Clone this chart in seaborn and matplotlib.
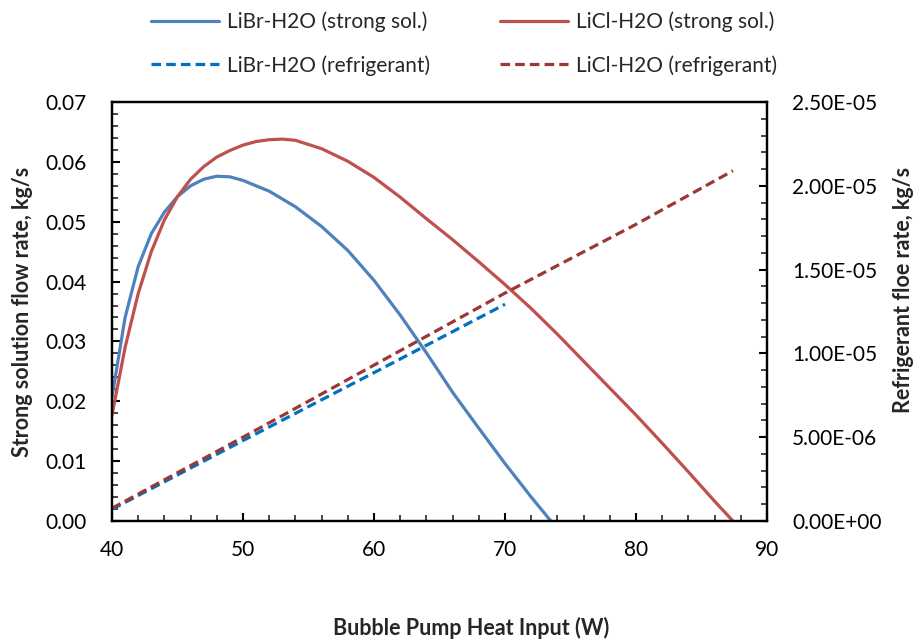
import matplotlib
matplotlib.use("Agg")
import matplotlib.pyplot as plt
from matplotlib.ticker import MultipleLocator, FuncFormatter
import seaborn as sns

# values
libr_x = [40, 41, 42, 43, 44, 45, 46, 47, 48, 49, 50, 52, 54, 56, 58, 60, 62, 64, 66, 68, 70, 72, 73.5]
libr_strong = [0.0207, 0.0340, 0.0425, 0.0480, 0.0516, 0.0542, 0.0560, 0.0571, 0.0576, 0.0575,
               0.0569, 0.0551, 0.0525, 0.0492, 0.0452, 0.0402, 0.0344, 0.0281, 0.0215, 0.0155,
               0.0096, 0.0040, 0.0]

licl_x = [40, 41, 42, 43, 44, 45, 46, 47, 48, 49, 50, 51, 52, 53, 54, 56, 58, 60, 62, 64, 66, 68,
          70, 72, 74, 76, 78, 80, 82, 84, 86, 87.4]
licl_strong = [0.0177, 0.0290, 0.0380, 0.0450, 0.0503, 0.0542, 0.0571, 0.0592, 0.0608, 0.0619,
               0.0628, 0.0634, 0.0637, 0.0638, 0.0636, 0.0622, 0.0601, 0.0574, 0.0541, 0.0505,
               0.0470, 0.0433, 0.0395, 0.0355, 0.0312, 0.0267, 0.0222, 0.0177, 0.0130, 0.0082,
               0.0033, 0.0]

libr_ref_x = [40, 50, 60, 70]
libr_ref = [7.0e-7, 4.80e-6, 8.85e-6, 1.293e-5]

licl_ref_x = [40, 50, 60, 70, 80, 87.4]
licl_ref = [7.6e-7, 5.0e-6, 9.3e-6, 1.36e-5, 1.77e-5, 2.09e-5]

sns.set_style("ticks")
plt.rcParams["font.family"] = ["Lato", "DejaVu Sans"]

fig = plt.figure(figsize = (9.22, 6.4), dpi = 100)
ax = fig.add_axes([112 / 922, 1 - 521 / 640, 655 / 922, 419 / 640])
ax2 = ax.twinx()

lw = 2.3
sns.lineplot(x = libr_x, y = libr_strong, ax = ax, color = "#4F81BD", linewidth = lw,
             label = "LiBr-H2O (strong sol.)", legend = False)
sns.lineplot(x = licl_x, y = licl_strong, ax = ax, color = "#C0504D", linewidth = lw,
             label = "LiCl-H2O (strong sol.)", legend = False)
sns.lineplot(x = libr_ref_x, y = libr_ref, ax = ax2, color = "#0070C0", linewidth = lw,
             linestyle = (0, (3, 1.6)), label = "LiBr-H2O (refrigerant)", legend = False)
sns.lineplot(x = licl_ref_x, y = licl_ref, ax = ax2, color = "#9B3835", linewidth = lw,
             linestyle = (0, (3, 1.6)), label = "LiCl-H2O (refrigerant)", legend = False)

ax.set_xlim(40, 90)
ax.set_ylim(0, 0.07)
ax2.set_ylim(0, 2.5e-5)

ax.xaxis.set_major_locator(MultipleLocator(10))
ax.xaxis.set_minor_locator(MultipleLocator(2))
ax.yaxis.set_major_locator(MultipleLocator(0.01))
ax.yaxis.set_minor_locator(MultipleLocator(0.002))
ax.yaxis.set_major_formatter(FuncFormatter(lambda v, p: f"{v:.2f}"))
ax2.yaxis.set_major_locator(MultipleLocator(5e-6))
ax2.yaxis.set_minor_locator(MultipleLocator(1e-6))
ax2.yaxis.set_major_formatter(FuncFormatter(lambda v, p: f"{v:.2E}"))

for a in (ax, ax2):
    for s in a.spines.values():
        s.set_linewidth(1.6)
        s.set_color("black")
    a.tick_params(which = "major", direction = "in", length = 6, width = 1.5,
                  labelsize = 15, colors = "black")
    a.tick_params(which = "minor", direction = "in", length = 4, width = 1.2)
ax.tick_params(axis = "y", which = "major", pad = 18)
ax.tick_params(axis = "x", which = "major", pad = 14)
ax2.tick_params(axis = "y", which = "major", pad = 18)
ax.grid(False)
ax2.grid(False)

ax.set_xlabel("Bubble Pump Heat Input (W)", fontsize = 15.5, fontweight = "bold")
ax.xaxis.set_label_coords(0.548, -0.228)
ax.set_ylabel("Strong solution flow rate, kg/s", fontsize = 15.5, fontweight = "bold")
ax.yaxis.set_label_coords(-0.121, 0.5)
ax2.set_ylabel("Refrigerant floe rate, kg/s", fontsize = 15.5, fontweight = "bold",
               rotation = 90)
ax2.yaxis.set_label_coords(1.192, 0.551)

h1, l1 = ax.get_legend_handles_labels()
h2, l2 = ax2.get_legend_handles_labels()
handles = [h1[0], h2[0], h1[1], h2[1]]
labels = [l1[0], l2[0], l1[1], l2[1]]
fig.legend(handles, labels, ncol = 2, loc = "upper left", bbox_to_anchor = (0.151, 1.0),
           frameon = False, fontsize = 15, handlelength = 3.3, labelspacing = 1.1,
           columnspacing = 3.35, handletextpad = 0.35, borderaxespad = 0.15)

fig.savefig("out.png", dpi = 100)
